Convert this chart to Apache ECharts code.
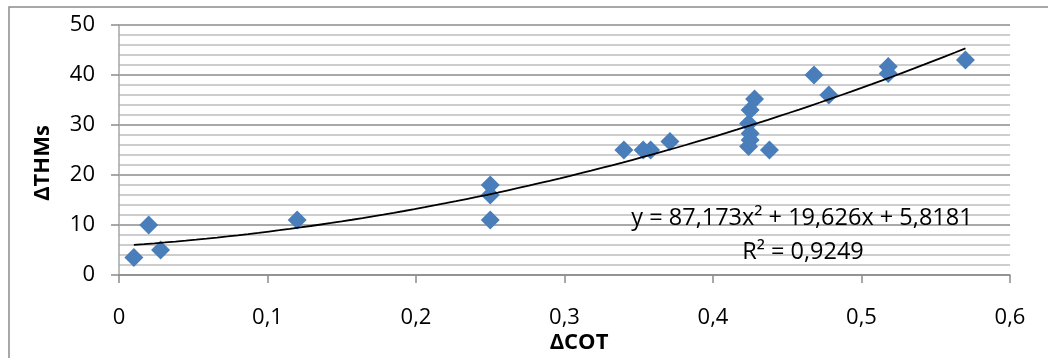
<!DOCTYPE html>
<html>
<head>
<meta charset="utf-8">
<script src="https://cdn.jsdelivr.net/npm/echarts@6/dist/echarts.min.js"></script>
<style>
  html, body { margin: 0; padding: 0; background: #ffffff; }
  #chart { width: 1048px; height: 358px; }
</style>
</head>
<body>
<div id="chart"></div>
<script>
// ΔCOT vs ΔTHMs measurements
const cotValues = [0.010, 0.020, 0.028, 0.120, 0.250, 0.250, 0.250, 0.340, 0.353, 0.358, 0.371,
                   0.428, 0.425, 0.424, 0.425, 0.425, 0.424, 0.438, 0.468, 0.478, 0.518, 0.518, 0.570];
const thmValues = [3.5, 10.0, 5.0, 11.0, 18.0, 16.0, 11.0, 25.0, 25.0, 25.0, 26.7,
                   35.2, 33.0, 30.3, 28.3, 27.0, 25.7, 25.0, 40.0, 36.0, 41.7, 40.3, 43.0];

// Polynomial trend (order 2): a·x² + b·x + c
const trendCoeffs = [87.173, 19.626, 5.8181];
const trendLabel = 'y = 87,173x² + 19,626x + 5,8181';
const r2Label = 'R² = 0,9249';

const xTicks = ['0', '0,1', '0,2', '0,3', '0,4', '0,5', '0,6'];

const points = cotValues.map((x, i) => [x, thmValues[i]]);

// trend curve over the range of the measured ΔCOT values
const xMin = Math.min(...cotValues), xMax = Math.max(...cotValues);
const trendPoints = [];
const steps = 80;
for (let i = 0; i <= steps; i++) {
  const x = xMin + (xMax - xMin) * i / steps;
  trendPoints.push([x, trendCoeffs[0] * x * x + trendCoeffs[1] * x + trendCoeffs[2]]);
}

const FONT = '"Open Sans", "Liberation Sans", sans-serif';
const chart = echarts.init(document.getElementById('chart'));

chart.setOption({
  animation: false,
  backgroundColor: '#ffffff',
  grid: { left: 119, right: 38, top: 25, bottom: 83, containLabel: false },
  xAxis: {
    type: 'value', min: 0, max: 0.6, interval: 0.1,
    axisLine: { show: true, onZero: false, lineStyle: { color: '#8c8c8c', width: 1.5 } },
    axisTick: { show: true, inside: false, length: 8, lineStyle: { color: '#8c8c8c', width: 1.5 } },
    axisLabel: {
      margin: 32, color: '#000', fontFamily: FONT, fontSize: 22,
      formatter: v => xTicks[Math.round(v * 10)]
    },
    splitLine: { show: false }
  },
  yAxis: {
    type: 'value', min: 0, max: 50, interval: 10,
    axisLine: { show: true, onZero: false, lineStyle: { color: '#a6a6a6', width: 1.5 } },
    axisTick: { show: true, inside: false, length: 8, lineStyle: { color: '#8c8c8c', width: 1.5 } },
    axisLabel: { margin: 24, color: '#000', fontFamily: FONT, fontSize: 22 },
    splitLine: { show: true, lineStyle: { color: '#8c8c8c', width: 1.5 } },
    minorTick: { show: false, splitNumber: 5 },
    minorSplitLine: { show: true, lineStyle: { color: '#bdbdbd', width: 1.5 } }
  },
  series: [
    {
      type: 'scatter',
      data: points,
      symbol: 'diamond',
      symbolSize: [19, 19],
      itemStyle: { color: '#4a7ebb', opacity: 1 },
      z: 3
    },
    {
      type: 'line',
      data: trendPoints,
      showSymbol: false,
      smooth: false,
      lineStyle: { color: '#000000', width: 1.8 },
      z: 4
    }
  ],
  graphic: [
    {
      type: 'rect', silent: true, z: -10,
      shape: { x: 9, y: 7, width: 1060, height: 370 },
      style: { fill: 'none', stroke: '#8c8c8c', lineWidth: 1.5 }
    },
    {
      type: 'text', x: 579, y: 343, z: 10,
      style: { text: 'ΔCOT', font: 'bold 22px ' + FONT, fill: '#000', align: 'center', verticalAlign: 'middle' }
    },
    {
      type: 'text', x: 43, y: 163, rotation: Math.PI / 2, z: 10,
      style: { text: 'ΔTHMs', font: 'bold 22px ' + FONT, fill: '#000', align: 'center', verticalAlign: 'middle' }
    },
    {
      type: 'text', x: 802, y: 218, z: 10,
      style: { text: trendLabel, font: '23.5px ' + FONT, fill: '#000', align: 'center', verticalAlign: 'middle' }
    },
    {
      type: 'text', x: 803, y: 252, z: 10,
      style: { text: r2Label, font: '23.5px ' + FONT, fill: '#000', align: 'center', verticalAlign: 'middle' }
    }
  ]
});
</script>
</body>
</html>
